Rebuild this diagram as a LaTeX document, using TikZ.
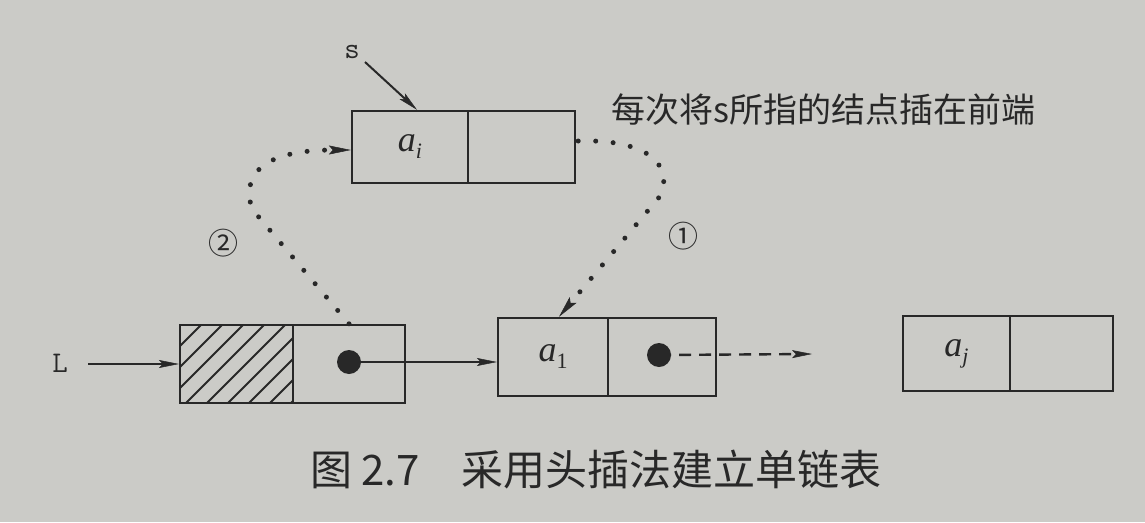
\documentclass[tikz,border=0pt]{standalone}
\usepackage{fontspec}
\newfontfamily\cjk{Noto Sans CJK SC}
\newfontfamily\tms{Liberation Serif}
\usetikzlibrary{arrows.meta,calc}
\definecolor{paper}{RGB}{203,203,199}
\definecolor{ink}{RGB}{40,40,40}
\newcommand{\elem}[1]{{\tms\itshape a}\raisebox{-7pt}{\fontsize{22}{24}\selectfont\tms #1}}
\tikzset{
  cell/.style={draw=ink,line width=2.4pt,minimum height=72pt,inner sep=0pt,anchor=center,
    font=\fontsize{36}{40}\selectfont,text=ink},
  tip/.style={-{Stealth[length=20pt,width=8pt,inset=4pt,line width=0.5pt]}},
  link/.style={tip,draw=ink,line width=2pt},
  dashlink/.style={tip,draw=ink,line width=2.4pt,dash pattern=on 12pt off 8pt},
  dotlink/.style={-{Stealth[length=22pt,width=9pt,inset=4pt,line width=0.5pt]},draw=ink,line width=5pt,
    line cap=round,dash pattern=on 0pt off 17.5pt},
  ptr/.style={circle,fill=ink,minimum size=24pt,inner sep=0pt},
  lbl/.style={font=\ttfamily\fontsize{30}{34}\selectfont,text=ink},
  num/.style={font=\cjk\fontsize{30}{34}\selectfont,text=ink}
}
\begin{document}
\begin{tikzpicture}[x=1pt,y=-1pt]
\fill[paper] (0,0) rectangle (1145,522);
\useasboundingbox (0,0) rectangle (1145,522);
% new node s
\node[cell,minimum width=116pt,minimum height=72pt] (sL) at (410,147) {\elem{\itshape i}};
\node[cell,minimum width=107pt,minimum height=72pt] (sR) at (521.5,147) {};
% head node
\begin{scope}
  \clip (180,325) rectangle (293,403);
  \foreach \k in {0,...,16} {
    \draw[ink,line width=1.8pt] (\k*21+60,403) -- ++(100,-100);
  }
\end{scope}
\node[cell,minimum width=113pt,minimum height=78pt] (hL) at (236.5,364) {};
\node[cell,minimum width=112pt,minimum height=78pt] (hR) at (349,364) {};
\node[ptr] (hp) at (349,362) {};
% a1 node
\node[cell,minimum width=110pt,minimum height=78pt] (aL) at (553,357) {\elem{1}};
\node[cell,minimum width=108pt,minimum height=78pt] (aR) at (662,357) {};
\node[ptr] (ap) at (659,355) {};
% aj node
\node[cell,minimum width=107pt,minimum height=75pt] (jL) at (956.5,353.5) {\elem{\itshape j}};
\node[cell,minimum width=103pt,minimum height=75pt] (jR) at (1061.5,353.5) {};
% labels
\node[lbl] (s) at (352,52) {s};
\node[lbl] (L) at (60,363) {L};
\coordinate (sfrom) at (365,62);
\coordinate (Lfrom) at (88,364);
\coordinate (dashend) at (812,354);
% connectors
\draw[link] (sfrom) -- ($(sL.north)+(7,0)$);
\draw[link] (Lfrom) -- (hL.west);
\draw[link] (hp.center) -- (hp.center -| aL.west);
\draw[dashlink] (ap.center) -- (dashend);
% dotted pointer changes
\draw[dotlink] ($(sR.east)+(2,-6)$) .. controls (640,139) and (674,160) .. (661,195) -- ($(aL.north)+(6,0)$);
\draw[dotlink] (hR.north) -- (252,209) .. controls (240,170) and (270,150) .. ($(sL.west)+(0,3)$);
\node[num] (n1) at (683,236) {①};
\node[num] (n2) at (223,243) {②};
% texts
\node[anchor=west,font=\cjk\fontsize{34}{38}\selectfont,text=ink] (note) at (608,110) {每次将s所指的结点插在前端};
\node[font=\cjk\fontsize{42}{48}\selectfont,text=ink] (cap) at (596,470) {图 2.7\hspace{1em}采用头插法建立单链表};
\end{tikzpicture}
\end{document}
